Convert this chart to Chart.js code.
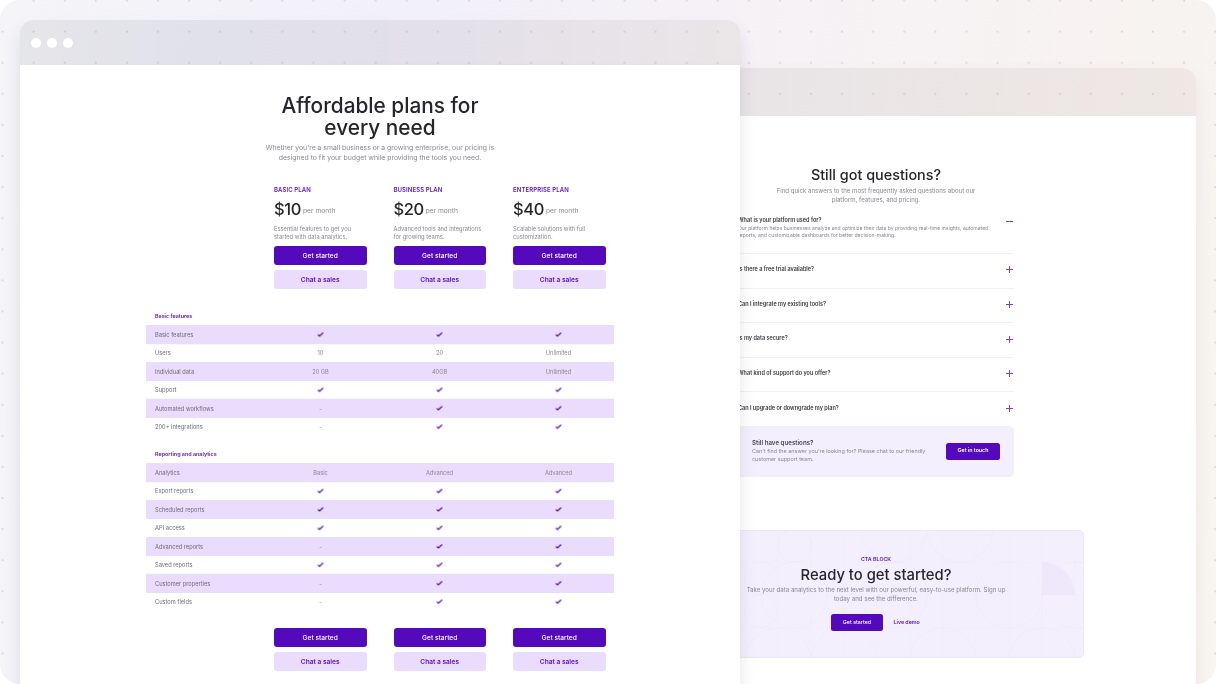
<!DOCTYPE html>
<html><head><meta charset="utf-8">
<script src="https://cdn.jsdelivr.net/npm/chart.js@4/dist/chart.umd.min.js"></script>
<style>
html,body{margin:0;padding:0;background:#fff;width:1216px;height:684px;overflow:hidden}
#stage{position:absolute;inset:0;border-radius:20px;overflow:hidden;font-family:Inter,sans-serif;filter:blur(.3px);
 background:linear-gradient(100deg,#f5f5f8 0%,#f2f0fa 30%,#f7f2f3 70%,#f8f4ef 100%);}
#left,#right{position:absolute;inset:0;will-change:transform}
#dots{position:absolute;inset:0;background-image:radial-gradient(circle,#e6d8e2 0,#e6d8e2 1px,transparent 1.4px);background-size:31.1px 31.1px;background-position:-13px -15px}
.win{position:absolute;overflow:hidden}
#w2{left:300px;top:68px;width:896px;height:616px;border-radius:14px 14px 0 0;box-shadow:0 8px 16px rgba(120,110,130,.1);overflow:visible}
#w2 .hd{position:absolute;left:0;right:0;top:0;height:48px;border-radius:14px 14px 0 0;background:linear-gradient(90deg,rgba(100,100,90,.09),rgba(100,95,85,.09) 50%,rgba(120,80,70,.07))}
#w2 .bd{position:absolute;left:0;right:0;top:48px;bottom:0;background:#fff}
#w1{left:20px;top:20px;width:720px;height:700px;border-radius:14px 14px 0 0;box-shadow:0 10px 16px rgba(90,85,105,.15);overflow:visible}
#w1 .hd{position:absolute;left:0;right:0;top:0;height:45px;border-radius:14px 14px 0 0;background:linear-gradient(90deg,rgba(90,95,110,.1),rgba(80,90,120,.11) 25%,rgba(100,90,100,.1) 60%,rgba(120,90,70,.08))}
#w1 .bd{position:absolute;left:0;right:0;top:45px;bottom:0;background:#fff}
.dot{position:absolute;top:17.5px;width:10px;height:10px;border-radius:50%;background:#fff}
.t{position:absolute;white-space:nowrap;line-height:1;transform:translateY(-50%)}
.c{transform:translate(-50%,-50%)}
.box{position:absolute;box-sizing:border-box}
canvas{position:absolute;display:block}
#cv1{left:146px;top:306.8px}
#cv2{left:146px;top:444.6px}
</style></head><body>
<div id="stage">
 <div id="dots"></div>
 <div class="win" id="w2"><div class="hd"></div><div class="bd"></div></div>
 <div id="right"></div>
 <div class="win" id="w1"><div class="hd"></div><div class="bd"></div>
  <div class="dot" style="left:11px"></div><div class="dot" style="left:26.5px"></div><div class="dot" style="left:42.5px"></div></div>
 <div id="left"></div>
 <canvas id="cv1" width="468" height="129" style="width:468px;height:129px"></canvas>
 <canvas id="cv2" width="468" height="166" style="width:468px;height:166px"></canvas>
</div>
<script>
// ---- plans
const planNames = ["BASIC PLAN","BUSINESS PLAN","ENTERPRISE PLAN"];
const planPrices = ["$10","$20","$40"];
const planDescA = ["Essential features to get you","Advanced tools and integrations","Scalable solutions with full"];
const planDescB = ["started with data analytics.","for growing teams.","customization."];
// ---- table 1
const rowsBasic = ["Basic features ","Basic features","Users","Individual data","Support","Automated workflows","200+ integrations"];
const basicPlanA = [null,"yes","10","20 GB","yes","-","-"];
const basicPlanB = [null,"yes","20","40GB","yes","yes","yes"];
const basicPlanC = [null,"yes","Unlimited","Unlimited","yes","yes","yes"];
// ---- table 2
const rowsReport = ["Reporting and analytics","Analytics","Export reports","Scheduled reports","API access","Advanced reports","Saved reports","Customer properties","Custom fields"];
const reportPlanA = [null,"Basic","yes","yes","yes","-","yes","-","-"];
const reportPlanB = [null,"Advanced","yes","yes","yes","yes","yes","yes","yes"];
const reportPlanC = [null,"Advanced","yes","yes","yes","yes","yes","yes","yes"];
// ---- FAQ
const faqQuestions = ["What is your platform used for?","Is there a free trial available?","Can I integrate my existing tools?","Is my data secure?","What kind of support do you offer?","Can I upgrade or downgrade my plan?"];

const PURPLE="#540abc", TXT="#5b10c6", GREY="#8b8794", DARK="#26252d", LIGHT="#e9dcfd";
function T(host,x,y,s,css,center){const e=document.createElement('div');e.className='t'+(center?' c':'');e.textContent=s;e.style.cssText=`left:${x}px;top:${y}px;`+css;host.appendChild(e);return e;}
function B(host,x,y,w,h,css){const e=document.createElement('div');e.className='box';e.style.cssText=`left:${x}px;top:${y}px;width:${w}px;height:${h}px;`+css;host.appendChild(e);return e;}
const L=document.getElementById('left'),R=document.getElementById('right');

const H="font-family:Inter;font-weight:500;";
T(L,380,117,"Affordable plans for\nevery need",H+`font-size:20.8px;line-height:22.3px;white-space:pre;text-align:center;color:${DARK};`,1);
T(L,380,147.5,"Whether you're a small business or a growing enterprise, our pricing is",`font-size:6.85px;color:${GREY};`,1);
T(L,380,157.6,"designed to fit your budget while providing the tools you need.",`font-size:6.85px;color:${GREY};`,1);
const colX=[274,393.5,513], perGap=[29,32,33];
function btns(x,y1,y2){
 B(L,x,y1,92.5,19,`background:${PURPLE};border-radius:3px`);
 T(L,x+46.2,y1+9.5,"Get started","font-size:6.6px;font-weight:500;color:#fff;",1);
 B(L,x,y2,92.5,19,`background:${LIGHT};border-radius:3px`);
 T(L,x+46.2,y2+9.5,"Chat a sales",`font-size:6.6px;font-weight:600;color:${TXT};`,1);
}
colX.forEach((x,i)=>{
 T(L,x,189.7,planNames[i],`font-size:6px;font-weight:600;letter-spacing:.1px;color:${TXT};`);
 T(L,x,209,planPrices[i],`font-size:16.5px;font-weight:500;letter-spacing:-.4px;color:${DARK};`);
 T(L,x+perGap[i],211.4,"per month",`font-size:6.7px;color:${GREY};`);
 T(L,x,228.6,planDescA[i],`font-size:5.75px;color:${GREY};`);
 T(L,x,236.6,planDescB[i],`font-size:5.75px;color:${GREY};`);
 btns(x,246,270);
 btns(x,628,652);
});

T(R,876,175,"Still got questions?",H+`font-size:14.4px;color:${DARK};`,1);
T(R,876,190.8,"Find quick answers to the most frequently asked questions about our",`font-size:6.1px;color:${GREY};`,1);
T(R,876,200,"platform, features, and pricing.",`font-size:6.1px;color:${GREY};`,1);
const faqY=[221.2,269.9,304.6,339.3,374.1,408.8], iconY=[221,269.5,304.3,339,373.5,408.2], sepY=[252.5,287.5,321.5,356.5,391];
faqQuestions.forEach((q,i)=>{
 T(R,738,faqY[i],q,`font-size:5.5px;font-weight:600;color:#3a3944;`);
 B(R,1005.5,iconY[i]-.5,7,1,"background:#7a3fd0");
 if(i) B(R,1008.5,iconY[i]-3.5,1,7,"background:#7a3fd0");
});
sepY.forEach(y=>B(R,738,y,275.5,.8,"background:#f1f0f3"));
T(R,738,229.2,"Our platform helps businesses analyze and optimize their data by providing real-time insights, automated",`font-size:5.05px;color:${GREY};`);
T(R,738,236.2,"reports, and customizable dashboards for better decision-making.",`font-size:5.05px;color:${GREY};`);
B(R,730,425.5,283.5,51.5,"background:#f3effd;border-radius:5px");
T(R,752,442.9,"Still have questions?","font-size:6.2px;font-weight:600;color:#4a4853;");
T(R,752,451.9,"Can't find the answer you're looking for? Please chat to our friendly",`font-size:5.45px;color:${GREY};`);
T(R,752,459.9,"customer support team.",`font-size:5.45px;color:${GREY};`);
B(R,946,442.7,54,17,`background:${PURPLE};border-radius:2.5px`);
T(R,973,451.2,"Get in touch","font-size:5.3px;font-weight:600;color:#fff;",1);

const cta=B(R,668,530,416,128,"background:#f3effd;border:.7px solid #ece6f7;border-radius:5px;overflow:hidden");
cta.innerHTML=`<svg width="416" height="128" style="position:absolute;left:0;top:0" fill="none" stroke="#eee9f8" stroke-width=".5">
<path d="M373 31a33 33 0 0 1 33 33h-33z" fill="#efe8fb" stroke="none"/>
<circle cx="125.5" cy="14.5" r="16.5"/><circle cx="225" cy="-2" r="33"/><circle cx="291" cy="-2" r="33"/><circle cx="340" cy="64" r="33"/>
<circle cx="125" cy="64" r="33"/><circle cx="92" cy="47" r="16.5"/><circle cx="92" cy="80" r="16.5"/><circle cx="225" cy="64" r="33"/>
<circle cx="175" cy="130" r="33"/><circle cx="109" cy="130" r="33"/><circle cx="274" cy="130" r="33"/><circle cx="373" cy="130" r="33"/><circle cx="406" cy="64" r="33"/>
<path d="M109 0v128M142 0v128M175 0v128M208 0v128M241 0v128M274 0v128M307 0v128M340 0v128M373 0v128M406 0v128M70 31h346M70 64h346M70 97h346" stroke="#f0ebfa" stroke-width=".4"/></svg>`;
T(R,876,560.4,"CTA BLOCK",`font-size:5.3px;font-weight:600;color:${TXT};`,1);
T(R,876,574.5,"Ready to get started?",H+`font-size:14.8px;color:${DARK};`,1);
T(R,876,589.8,"Take your data analytics to the next level with our powerful, easy-to-use platform. Sign up",`font-size:6.1px;color:${GREY};`,1);
T(R,876,599.3,"today and see the difference.",`font-size:6.1px;color:${GREY};`,1);
B(R,831,614,52.3,17,`background:${PURPLE};border-radius:2.5px`);
T(R,857,622.5,"Get started","font-size:5.3px;font-weight:500;color:#fff;",1);
T(R,893.5,622.6,"Live demo",`font-size:5.3px;font-weight:600;color:${TXT};`);

const checkImg=document.createElement('canvas');checkImg.width=8;checkImg.height=7;
(()=>{const c=checkImg.getContext('2d');c.strokeStyle='#4d08b4';c.lineWidth=1.15;c.beginPath();c.moveTo(1.4,3.5);c.lineTo(3,5);c.lineTo(6.6,1.5);c.stroke();})();
const X_MIN=-1.4664,X_MAX=2.4664;
function table(id,rows,cols){
 const bands=rows.map((r,i)=>(i%2===1)?[X_MIN,X_MAX]:null);
 const marks=[];cols.forEach((col,c)=>col.forEach((v,i)=>{if(v==="yes")marks.push({x:c,y:rows[i]});}));
 const cellText={id:'cellText',afterDatasetsDraw(ch){
  const g=ch.ctx;g.save();g.font='5.7px Inter';g.fillStyle='#8b8794';g.textAlign='center';g.textBaseline='middle';
  cols.forEach((col,c)=>col.forEach((v,i)=>{if(v&&v!=="yes")g.fillText(v,ch.scales.x.getPixelForValue(c),ch.scales.y.getPixelForValue(i)+.6);}));
  g.restore();}};
 new Chart(document.getElementById(id),{
  type:'bar',
  data:{labels:rows,datasets:[
   {type:'bar',data:bands,backgroundColor:'#e9dcfd',barPercentage:1,categoryPercentage:1,borderWidth:0,order:2},
   {type:'scatter',data:marks,pointStyle:checkImg,order:1,clip:false}
  ]},
  options:{indexAxis:'y',responsive:false,animation:false,events:[],maintainAspectRatio:false,
   layout:{padding:0,autoPadding:false},
   plugins:{legend:{display:false},tooltip:{enabled:false}},
   scales:{
    x:{type:'linear',min:X_MIN,max:X_MAX,display:false},
    y:{type:'category',border:{display:false},grid:{display:false},
     afterFit:s=>{s.width=0;s.paddingTop=0;s.paddingBottom=0;},
     ticks:{mirror:true,padding:9,autoSkip:false,z:2,labelOffset:.6,
      color:c=>c.index===0?'#5b10c6':'#6f6b78',
      font:c=>c.index===0?{family:'Inter',size:5.4,weight:'600'}:{family:'Inter',size:5.7,weight:'400'}}}
   }},
  plugins:[cellText]
 });
}
table('cv1',rowsBasic,[basicPlanA,basicPlanB,basicPlanC]);
table('cv2',rowsReport,[reportPlanA,reportPlanB,reportPlanC]);
</script>
</body></html>
